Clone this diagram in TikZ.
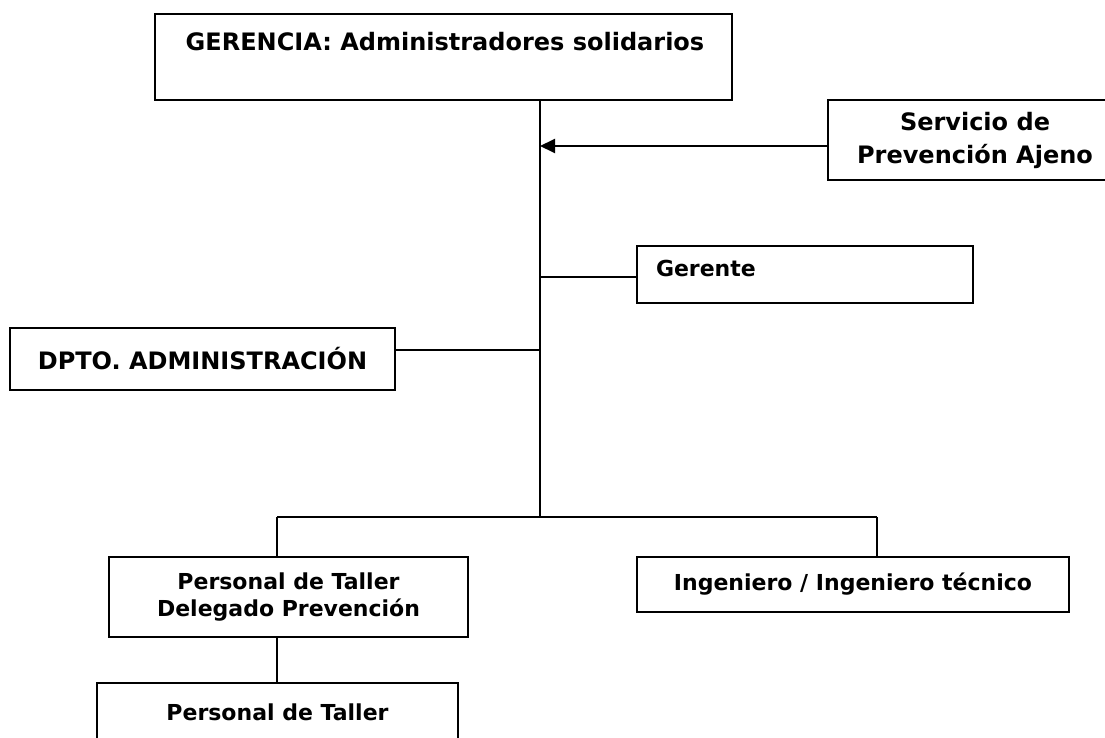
\documentclass[tikz,border=0pt]{standalone}
\usepackage{fontspec}
\setmainfont{DejaVu Sans}
\usetikzlibrary{positioning}
\usetikzlibrary{arrows.meta}
\usetikzlibrary{calc}
\tikzset{org box/.style={rectangle,draw,line width=2pt,inner sep=0pt,font=\bfseries,align=center},
         big text/.style={font=\fontsize{24}{30}\selectfont\bfseries},
         mid text/.style={font=\fontsize{24}{33}\selectfont\bfseries},
         small text/.style={font=\fontsize{22}{27}\selectfont\bfseries},}

\begin{document}
\begin{tikzpicture}[x=1pt, y=-1pt, line width=2pt]
	\clip (0,0) rectangle (1105,738);
	\useasboundingbox (0,0) rectangle (1105,738);

	% boxes
	\node[org box, minimum width=577, minimum height=86] (ger) at (443.5,57) {};
	\node[big text, inner sep=0pt] (gertxt) at (445,42) {GERENCIA: Administradores solidarios};
	\node[org box, mid text, minimum width=294, minimum height=80] (spa) at (975,140) {Servicio de\\Prevención Ajeno};
	\node[org box, minimum width=336, minimum height=57] (gte) at (805,274.5) {};
	\node[small text, inner sep=0pt, anchor=west] (gtetxt) at (655,268) {Gerente};
	\node[org box, mid text, minimum width=385, minimum height=62] (dpto) at (202.5,359) {DPTO. ADMINISTRACIÓN};
	\node[org box, small text, minimum width=359, minimum height=80] (ptd) at (288.5,597) {Personal de Taller\\Delegado Prevención};
	\node[org box, small text, minimum width=432, minimum height=55] (ing) at (853,584.5) {Ingeniero / Ingeniero técnico};
	\node[org box, small text, minimum width=361, minimum height=58] (pt) at (277.5,712) {Personal de Taller};

	% connectors
	\coordinate (jn) at (540,517);
	\coordinate (bl) at (277,517);
	\coordinate (br) at (877,517);
	\draw (ger.south -| jn) -- (jn);
	\draw[-{Triangle[length=15pt,width=14pt]}] ([yshift=-6pt]spa.west) -- ([yshift=-6pt]spa.west -| jn);
	\draw ([yshift=-2.5pt]gte.west) -- ([yshift=-2.5pt]gte.west -| jn);
	\draw ([yshift=9pt]dpto.east) -- ([yshift=9pt]dpto.east -| jn);
	\draw (bl) -- (br);
	\draw (bl) -- (bl |- ptd.north);
	\draw (br) -- (br |- ing.north);
	\draw (ptd.south -| bl) -- (pt.north -| bl);
\end{tikzpicture}
\end{document}
